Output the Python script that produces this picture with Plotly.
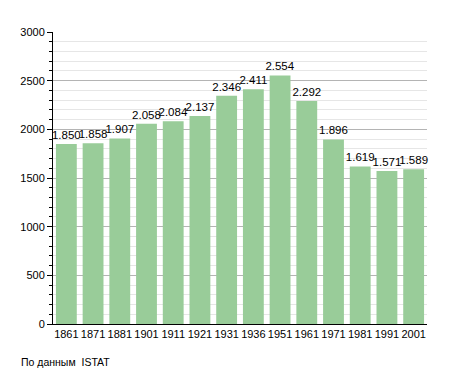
import plotly.graph_objects as go

years = ["1861", "1871", "1881", "1901", "1911", "1921", "1931", "1936", "1951", "1961", "1971", "1981", "1991", "2001"]
population = [1850, 1858, 1907, 2058, 2084, 2137, 2346, 2411, 2554, 2292, 1896, 1619, 1571, 1589]
labels = [f"{v:,}".replace(",", ".") for v in population]

fig = go.Figure(go.Bar(
    x=years, y=population, text=labels, textposition="outside",
    textfont=dict(size=11.5, color="black", family="Liberation Sans, Arial"),
    marker=dict(color="#99cc99", line=dict(width=0)),
    cliponaxis=False, width=0.78,
))
# page body has an 8px margin, so shrink the figure accordingly
fig.update_layout(
    width=447, height=365,
    margin=dict(l=42, r=28, t=24, b=49),
    plot_bgcolor="white", paper_bgcolor="white",
    font=dict(family="Liberation Sans, Arial", size=11, color="black"),
    showlegend=False,
    uniformtext=dict(minsize=11, mode="show"),
    xaxis=dict(type="category", showline=True, linecolor="black", linewidth=1,
               ticks="", tickfont=dict(size=11)),
    yaxis=dict(range=[0, 3000], dtick=500, showline=True, linecolor="black", linewidth=1,
               ticks="outside", ticklen=5, tickcolor="black", gridcolor="#b4b4b4",
               tickfont=dict(size=11), zeroline=False,
               minor=dict(dtick=100, showgrid=True, gridcolor="#e6e6e6", ticks="outside",
                          ticklen=3, tickcolor="black")),
    annotations=[dict(text="По данным  ISTAT", x=-34/377, y=-38/292, xref="paper", yref="paper",
                      showarrow=False, xanchor="left", yanchor="middle",
                      font=dict(size=10.5))],
)
fig.write_html("out.html")
